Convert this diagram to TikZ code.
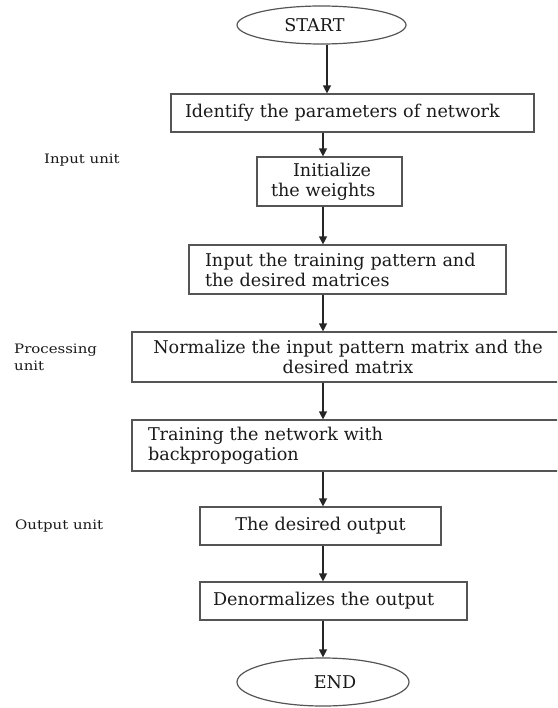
\documentclass[tikz,border=0pt]{standalone}
\usepackage{fontspec}
\setmainfont{DejaVu Serif}
\newfontfamily\sidefam{DejaVu Serif}[FakeStretch=1.15]
\usetikzlibrary{shapes.geometric,arrows.meta}
\definecolor{boxline}{HTML}{555555}
\definecolor{txt}{HTML}{1A1A1A}
\tikzset{
  every node/.style={text=txt},
  mainfont/.style={font=\fontsize{17.6}{20}\selectfont},
  sidefont/.style={font=\sidefam\fontsize{13}{17}\selectfont},
  procbox/.style={draw=boxline, line width=1.2pt, rectangle, inner ysep=0pt, mainfont},
  leftbox/.style={procbox, align=left},
  centbox/.style={procbox, align=center},
  term/.style={draw=boxline, line width=1.2pt, ellipse, inner sep=0pt, mainfont},
  sidelabel/.style={sidefont, anchor=west, inner sep=0pt, align=left},
  arr/.style={draw=black!85, line width=1.3pt, -{Triangle[length=8pt,width=8pt]}}
}
\begin{document}
\begin{tikzpicture}[x=1pt,y=-1pt]
\useasboundingbox (0,0) rectangle (557,708);
\clip (0,0) rectangle (557,708);
% terminals
\node[term, minimum width=169pt, minimum height=38pt] (start) at (321.5,25) {START\hspace*{14pt}};
\node[term, minimum width=172pt, minimum height=48pt] (end) at (323,682) {\hspace*{24pt}END};
% process boxes
\node[leftbox, minimum width=363pt, minimum height=38pt, inner xsep=14pt, text width=335pt] (b1) at (352.5,113) {Identify the parameters of network};
\node[leftbox, minimum width=145pt, minimum height=49pt, inner xsep=14pt, text width=117pt] (b2) at (329.5,181.5) {\hspace*{22pt}Initialize\\the weights};
\node[leftbox, minimum width=317pt, minimum height=49pt, inner xsep=16pt, text width=285pt] (b3) at (347.5,269.5) {Input the training pattern and\\the desired matrices};
\node[centbox, minimum width=432pt, minimum height=50pt, inner xsep=16pt, text width=400pt] (b4) at (348,357) {Normalize the input pattern matrix and the\\desired matrix};
\node[leftbox, minimum width=432pt, minimum height=51pt, inner xsep=16pt, text width=400pt] (b5) at (348,445.5) {Training the network with\\backpropogation};
\node[centbox, minimum width=241pt, minimum height=38pt, inner xsep=10pt, text width=221pt] (b6) at (320.5,526) {The desired output};
\node[leftbox, minimum width=267pt, minimum height=38pt, inner xsep=13pt, text width=241pt] (b7) at (333.5,601) {Denormalizes the output};
% side labels
\node[sidelabel] (l1) at (44,160) {Input unit};
\node[sidelabel] (l2) at (14,357) {Processing\\unit};
\node[sidelabel] (l3) at (15,526) {Output unit};
% arrow columns
\coordinate (ca) at (327,0);
\coordinate (cb) at (323,0);
\draw[arr] (start.south -| ca) -- (b1.north -| ca);
\draw[arr] (b1.south -| cb) -- (b2.north -| cb);
\draw[arr] (b2.south -| cb) -- (b3.north -| cb);
\draw[arr] (b3.south -| cb) -- (b4.north -| cb);
\draw[arr] (b4.south -| cb) -- (b5.north -| cb);
\draw[arr] (b5.south -| cb) -- (b6.north -| cb);
\draw[arr] (b6.south -| cb) -- (b7.north -| cb);
\draw[arr] (b7.south -| cb) -- (end.north -| cb);
\end{tikzpicture}
\end{document}
